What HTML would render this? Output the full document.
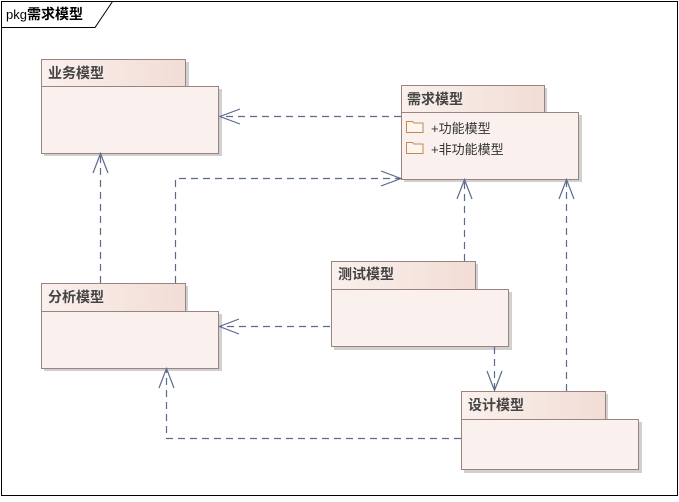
<!DOCTYPE html>
<html><head><meta charset="utf-8"><style>
html,body{margin:0;padding:0;background:#fff;}
svg text{font-family:"Liberation Sans","Noto Sans CJK SC",sans-serif;}
</style></head><body>
<svg width="679" height="497" viewBox="0 0 679 497" xmlns="http://www.w3.org/2000/svg">
<defs>
<linearGradient id="tg" x1="0" x2="1" y1="0" y2="0">
<stop offset="0" stop-color="#faf0ec"/><stop offset="1" stop-color="#f1ddd5"/>
</linearGradient>
</defs>
<rect x="1.5" y="1.5" width="676" height="494" fill="#fff" stroke="#000" stroke-width="1"/>
<path d="M1.5 27.5 H95 L112.5 1.5" fill="none" stroke="#000"/>
<text x="6" y="19" font-size="14" fill="#000"><tspan font-size="13">pkg</tspan><tspan font-weight="bold">需求模型</tspan></text>

<g id="pk">
<!-- 业务模型 -->
<rect x="44" y="62" width="145" height="27" fill="#d0d0d0"/>
<rect x="44" y="89" width="178" height="67" fill="#d0d0d0"/>
<rect x="41.5" y="59.5" width="144" height="27" fill="url(#tg)" stroke="#9a8380"/>
<rect x="41.5" y="86.5" width="177" height="67" fill="#faf1ee" stroke="#9a8380"/>
<text x="48" y="78" font-size="14" font-weight="bold" fill="#444">业务模型</text>

<!-- 需求模型 -->
<rect x="404" y="88" width="143" height="27" fill="#d0d0d0"/>
<rect x="404" y="115" width="178" height="67" fill="#d0d0d0"/>
<rect x="401.5" y="85.5" width="143" height="27" fill="url(#tg)" stroke="#9a8380"/>
<rect x="401.5" y="112.5" width="177" height="67" fill="#faf1ee" stroke="#9a8380"/>
<text x="407" y="104" font-size="14" font-weight="bold" fill="#444">需求模型</text>
<path d="M406.5 121.5 h6 l1.5 1.5 h9 v9.5 h-16.5 z" fill="#fdf5ee" stroke="#c08a50"/>
<path d="M406.5 142.5 h6 l1.5 1.5 h9 v9.5 h-16.5 z" fill="#fdf5ee" stroke="#c08a50"/>
<text x="431" y="133" font-size="13" fill="#333">+功能模型</text>
<text x="431" y="154" font-size="13" fill="#333">+非功能模型</text>

<!-- 分析模型 -->
<rect x="44" y="286" width="144" height="28" fill="#d0d0d0"/>
<rect x="44" y="314" width="178" height="57" fill="#d0d0d0"/>
<rect x="41.5" y="283.5" width="144" height="28" fill="url(#tg)" stroke="#9a8380"/>
<rect x="41.5" y="311.5" width="177" height="57" fill="#faf1ee" stroke="#9a8380"/>
<text x="48" y="302" font-size="14" font-weight="bold" fill="#444">分析模型</text>

<!-- 测试模型 -->
<rect x="334" y="264" width="144" height="28" fill="#d0d0d0"/>
<rect x="334" y="292" width="178" height="58" fill="#d0d0d0"/>
<rect x="331.5" y="261.5" width="144" height="28" fill="url(#tg)" stroke="#9a8380"/>
<rect x="331.5" y="289.5" width="177" height="57" fill="#faf1ee" stroke="#9a8380"/>
<text x="338" y="279" font-size="14" font-weight="bold" fill="#444">测试模型</text>

<!-- 设计模型 -->
<rect x="464" y="394" width="144" height="28" fill="#d0d0d0"/>
<rect x="464" y="422" width="178" height="51" fill="#d0d0d0"/>
<rect x="461.5" y="391.5" width="144" height="28" fill="url(#tg)" stroke="#9a8380"/>
<rect x="461.5" y="419.5" width="177" height="50" fill="#faf1ee" stroke="#9a8380"/>
<text x="468" y="410" font-size="14" font-weight="bold" fill="#444">设计模型</text>
</g>

<g fill="none" stroke="#5c6a8c" stroke-width="1.2">
<g stroke-dasharray="7,5">
<path d="M401 116.5 H220"/>
<path d="M175.5 283 V178.5 H400"/>
<path d="M100.5 283 V155"/>
<path d="M464.5 261 V181"/>
<path d="M330 326.5 H221"/>
<path d="M494.5 347 V390"/>
<path d="M566.5 391 V181"/>
<path d="M461 438.5 H166.5 V370"/>
</g>
<path d="M240 109 L220 116.5 L240 124"/>
<path d="M381 171 L401 178.5 L381 186"/>
<path d="M93 173 L100.5 153.5 L108 173"/>
<path d="M457 199 L464.5 179.5 L472 199"/>
<path d="M239 319 L219.5 326.5 L239 334"/>
<path d="M487 371 L494.5 390.5 L502 371"/>
<path d="M559 199 L566.5 179.5 L574 199"/>
<path d="M159 388 L166.5 368.5 L174 388"/>
</g>
</svg>
</body></html>
